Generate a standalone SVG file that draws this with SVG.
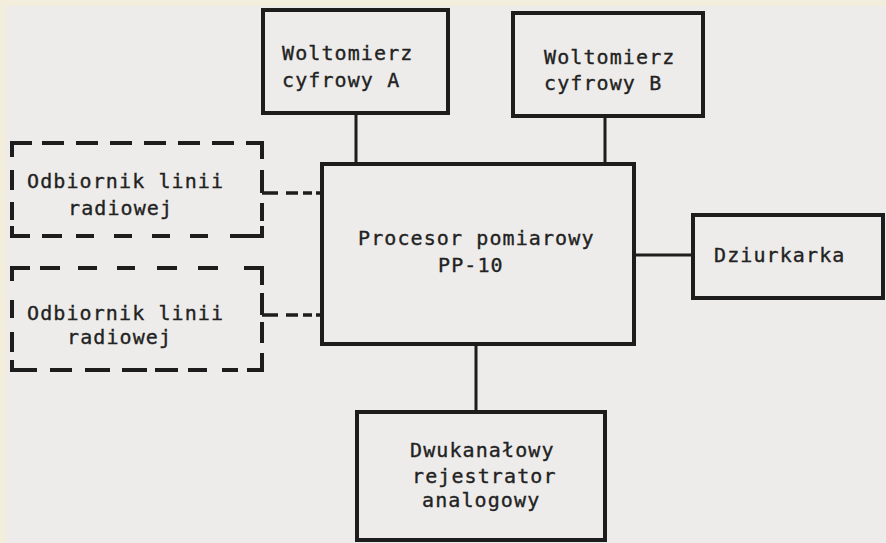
<svg xmlns="http://www.w3.org/2000/svg" width="886" height="543" viewBox="0 0 886 543">
<style>
.box{fill:none;stroke:#1d1d1d;stroke-width:4}
.dbox{fill:none;stroke:#1d1d1d;stroke-width:4;stroke-linecap:butt}
.wire{fill:none;stroke:#1d1d1d;stroke-width:3}
.dwire{fill:none;stroke:#1d1d1d;stroke-width:3.5;stroke-dasharray:16 8 12 5 9 4 6}
text{font-family:"DejaVu Sans Mono","Liberation Mono",monospace;font-size:20px;letter-spacing:1.1px;fill:#222;stroke:#222;stroke-width:0.35}
</style>
<rect x="0" y="0" width="886" height="543" fill="#edecea"/>
<rect x="0" y="0" width="886" height="6" fill="#f3eedb"/>
<rect x="0" y="0" width="6" height="543" fill="#f3eedb"/>

<g id="connectors">
<line class="wire" x1="356" y1="113" x2="356" y2="164"/>
<line class="wire" x1="605" y1="116" x2="605" y2="164"/>
<line class="wire" x1="634" y1="255" x2="693" y2="255"/>
<line class="wire" x1="476" y1="344" x2="476" y2="412"/>
<line class="dwire" x1="262" y1="193" x2="322" y2="193"/>
<line class="dwire" x1="262" y1="315" x2="322" y2="315"/>
</g>

<g id="woltomierz-a">
<rect class="box" x="263" y="10" width="185" height="103"/>
<text x="282" y="60">Woltomierz</text>
<text x="282" y="87">cyfrowy A</text>
</g>

<g id="woltomierz-b">
<rect class="box" x="513" y="13" width="190" height="103"/>
<text x="544" y="64">Woltomierz</text>
<text x="544" y="90">cyfrowy B</text>
</g>

<g id="procesor">
<rect class="box" x="322" y="164" width="312" height="180"/>
<text x="358" y="245">Procesor pomiarowy</text>
<text x="438" y="272">PP-10</text>
</g>

<g id="dziurkarka">
<rect class="box" x="693" y="215" width="190" height="83"/>
<text x="714" y="262">Dziurkarka</text>
</g>

<g id="rejestrator">
<rect class="box" x="357" y="412" width="248" height="128"/>
<text x="410" y="457">Dwukanałowy</text>
<text x="412" y="483">rejestrator</text>
<text x="422" y="507">analogowy</text>
</g>

<g id="odbiornik-1">
<path class="dbox" d="M12,157 V143 H32 M42,143 H64 M76,143 H98 M110,143 H132 M144,143 H166 M178,143 H200 M212,143 H234 M246,143 H262 V159
M262,170 V193 M262,203 V221 M262,226 V236 H230
M208,236 H190 M170,236 H152 M132,236 H114 M94,236 H76 M62,236 H42 M30,236 H12 V226
M12,220 V202 M12,190 V170"/>
<text x="27" y="188">Odbiornik linii</text>
<text x="68" y="215">radiowej</text>
</g>

<g id="odbiornik-2">
<path class="dbox" d="M12,281 V268 H30 M40,268 H60 M78,268 H97 M117,268 H135 M157,268 H177 M198,268 H218 M244,268 H262 V285
M262,293 V315 M262,322 V343 M262,353 V370 H247
M238,370 H222 M207,370 H188 M178,370 H155 M147,370 H122 M110,370 H85 M72,370 H50 M37,370 H12 V360
M12,352 V332 M12,318 V300"/>
<text x="27" y="320">Odbiornik linii</text>
<text x="67" y="344">radiowej</text>
</g>
</svg>
